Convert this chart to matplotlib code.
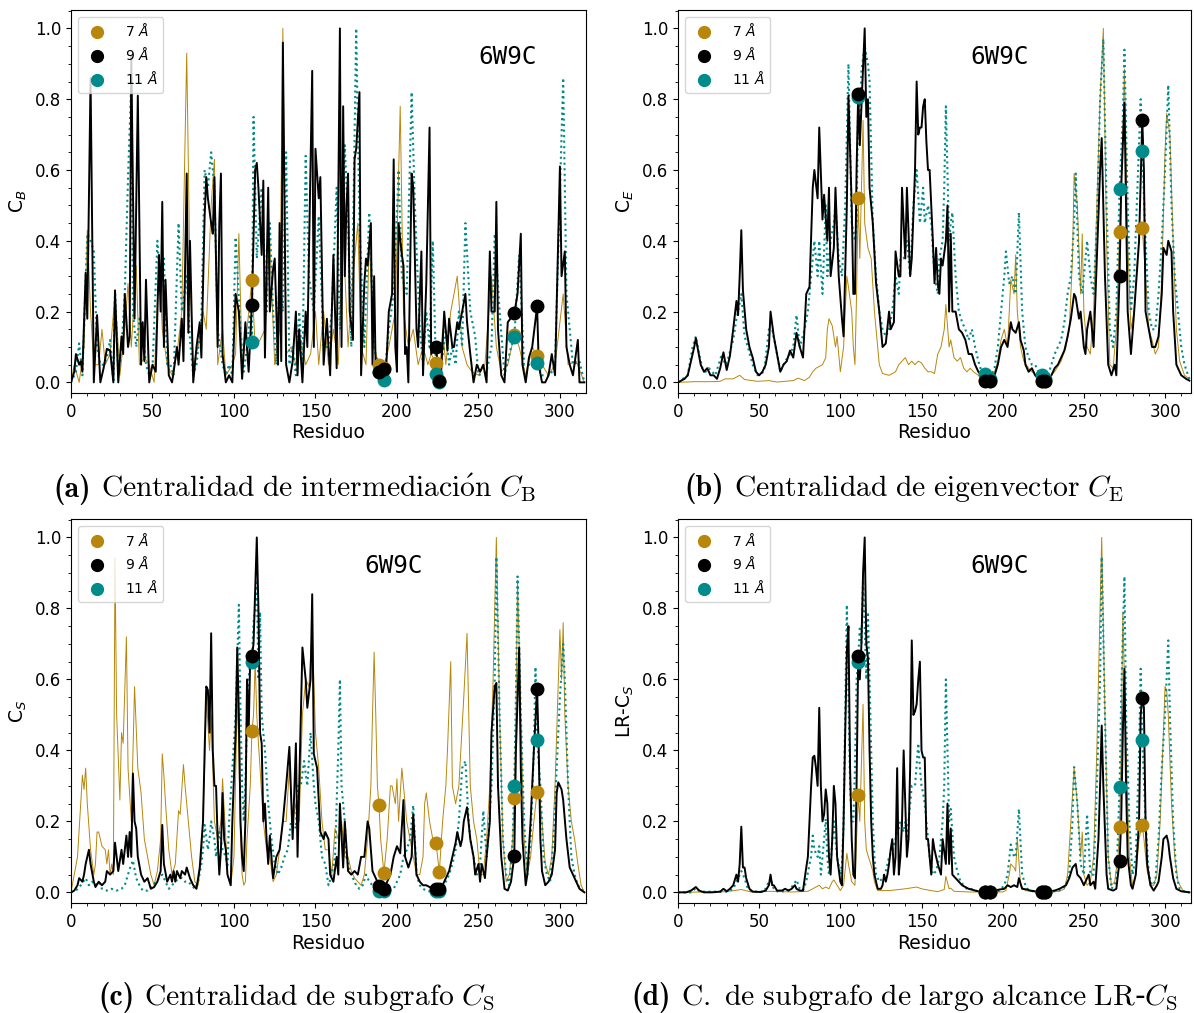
import matplotlib
matplotlib.use("Agg")
import matplotlib.pyplot as plt
from matplotlib.lines import Line2D
from matplotlib.ticker import MultipleLocator
from matplotlib.offsetbox import TextArea, HPacker, AnchoredOffsetbox

# ---------------- data ----------------
sitios = [111, 189, 192, 224, 226, 272, 286]   # highlighted residues

# (a) betweenness C_B
cb_7 = [(0,0.0),(2,0.05),(5,0.0),(8,0.1),(10,0.43),(12,0.2),(14,0.05),(17,0.05),(19,0.15),(21,0.05),(24,0.08),(27,0.25),(30,0.02),(33,0.15),(35,0.28),(37,0.1),(40,0.33),(42,0.05),(45,0.07),(48,0.05),(51,0.0),(54,0.35),(56,0.15),(59,0.05),(62,0.02),(65,0.08),(68,0.2),(71,0.93),(73,0.3),(75,0.05),(78,0.1),(81,0.2),(83,0.15),(86,0.5),(88,0.63),(90,0.05),(93,0.15),(95,0.02),(99,0.05),(101,0.08),(103,0.42),(105,0.05),(108,0.15),(113,0.1),(116,0.12),(119,0.15),(122,0.4),(125,0.05),(128,0.15),(130,1.0),(132,0.08),(135,0.1),(138,0.05),(141,0.12),(144,0.05),(147,0.08),(150,0.2),(152,0.05),(155,0.2),(158,0.05),(161,0.15),(164,0.05),(167,0.42),(170,0.1),(173,0.3),(176,0.45),(178,0.1),(181,0.05),(183,0.4),(186,0.1),(195,0.1),(199,0.2),(202,0.78),(204,0.2),(207,0.1),(210,0.15),(213,0.05),(216,0.1),(219,0.05),(221,0.08),(228,0.15),(230,0.05),(233,0.2),(237,0.3),(240,0.1),(243,0.05),(246,0.03),(250,0.02),(254,0.05),(258,0.3),(261,0.1),(264,0.03),(268,0.05),(275,0.1),(279,0.02),(283,0.1),(289,0.05),(293,0.02),(297,0.05),(302,0.25),(305,0.05),(310,0.06),(315,0.0)]
cb_9 = [(0,0.0),(2,0.03),(3,0.08),(5,0.05),(6,0.06),(7,0.03),(9,0.31),(10,0.18),(12,0.86),(14,0.0),(16,0.19),(18,0.0),(20,0.04),(22,0.095),(24,0.09),(26,0.0),(27,0.26),(29,0.0),(31,0.13),(32,0.08),(33,0.25),(35,0.1),(36,0.13),(37,0.92),(39,0.18),(41,0.81),(43,0.05),(44,0.17),(45,0.06),(46,0.29),(48,0.0),(50,0.05),(52,0.03),(54,0.36),(55,0.2),(56,0.51),(57,0.1),(58,0.29),(60,0.02),(62,0.0),(63,0.03),(65,0.1),(66,0.05),(68,0.18),(69,0.06),(71,0.59),(72,0.14),(73,0.40),(75,0.0),(77,0.1),(79,0.17),(80,0.07),(82,0.47),(83,0.58),(84,0.52),(86,0.45),(87,0.42),(88,0.58),(90,0.1),(91,0.45),(92,0.59),(93,0.08),(95,0.0),(97,0.02),(99,0.0),(101,0.25),(103,0.2),(105,0.01),(107,0.17),(109,0.03),(113,0.6),(114,0.62),(115,0.55),(117,0.36),(118,0.57),(119,0.07),(121,0.55),(122,0.2),(124,0.32),(125,0.35),(127,0.05),(128,0.45),(129,0.06),(130,0.96),(132,0.05),(134,0.0),(136,0.06),(138,0.2),(139,0.02),(140,0.15),(142,0.0),(144,0.2),(145,0.1),(148,0.88),(149,0.1),(150,0.66),(152,0.52),(153,0.58),(155,0.05),(157,0.18),(159,0.02),(161,0.36),(163,0.04),(165,1.0),(166,0.1),(167,0.78),(168,0.3),(169,0.5),(170,0.59),(171,0.2),(173,0.12),(174,0.63),(175,0.66),(177,0.82),(178,0.02),(180,0.28),(181,0.35),(182,0.33),(184,0.45),(185,0.05),(186,0.3),(187,0.02),(193,0.0),(195,0.2),(197,0.25),(198,0.63),(199,0.1),(200,0.03),(201,0.45),(203,0.36),(204,0.33),(205,0.08),(206,0.1),(207,0.0),(209,0.59),(210,0.55),(212,0.15),(213,0.1),(215,0.37),(216,0.02),(218,0.28),(220,0.72),(221,0.08),(227,0.02),(229,0.2),(231,0.09),(232,0.18),(234,0.1),(235,0.1),(237,0.17),(238,0.15),(240,0.2),(242,0.25),(243,0.17),(245,0.08),(247,0.0),(249,0.05),(251,0.03),(253,0.05),(255,0.0),(257,0.37),(258,0.2),(260,0.2),(261,0.51),(262,0.15),(264,0.02),(266,0.0),(268,0.17),(274,0.25),(276,0.42),(277,0.05),(279,0.0),(281,0.07),(283,0.1),(287,0.05),(289,0.0),(291,0.0),(293,0.02),(295,0.08),(297,0.02),(300,0.61),(301,0.3),(303,0.37),(304,0.1),(306,0.05),(308,0.02),(311,0.12),(312,0.0),(315,0.0)]
cb_11 = [(0,0.0),(3,0.03),(5,0.11),(7,0.02),(10,0.42),(12,0.4),(14,0.37),(16,0.1),(18,0.05),(20,0.05),(22,0.07),(24,0.12),(26,0.0),(27,0.26),(29,0.03),(31,0.1),(33,0.25),(35,0.58),(37,0.85),(38,0.2),(40,0.1),(42,0.18),(44,0.15),(46,0.05),(48,0.02),(50,0.04),(53,0.4),(55,0.25),(57,0.35),(59,0.05),(61,0.05),(63,0.02),(66,0.45),(68,0.2),(71,0.3),(73,0.12),(75,0.02),(77,0.05),(80,0.18),(82,0.6),(84,0.55),(86,0.65),(88,0.55),(90,0.15),(93,0.05),(95,0.02),(97,0.05),(99,0.02),(101,0.41),(104,0.15),(106,0.03),(108,0.1),(110,0.2),(112,0.75),(114,0.35),(117,0.55),(120,0.2),(122,0.45),(124,0.2),(126,0.05),(128,0.3),(130,0.2),(132,0.65),(134,0.05),(136,0.1),(138,0.02),(140,0.2),(142,0.05),(144,0.64),(146,0.3),(149,0.2),(152,0.47),(155,0.1),(158,0.1),(160,0.2),(163,0.55),(165,0.15),(168,0.67),(170,0.45),(172,0.1),(175,1.0),(177,0.45),(180,0.1),(183,0.48),(186,0.1),(195,0.15),(198,0.25),(201,0.6),(203,0.3),(206,0.25),(209,0.82),(211,0.5),(214,0.15),(216,0.05),(218,0.2),(220,0.1),(222,0.4),(230,0.15),(232,0.05),(234,0.1),(236,0.05),(238,0.2),(240,0.1),(242,0.45),(245,0.2),(248,0.13),(250,0.02),(255,0.03),(258,0.1),(260,0.42),(263,0.2),(266,0.02),(270,0.1),(275,0.36),(278,0.05),(282,0.05),(289,0.02),(294,0.02),(297,0.05),(302,0.86),(304,0.25),(308,0.05),(312,0.06),(315,0.0)]
cb_m7 = [0.29, 0.048, 0.04, 0.055, 0.005, 0.135, 0.075]
cb_m9 = [0.22, 0.03, 0.037, 0.10, 0.004, 0.195, 0.215]
cb_m11 = [0.115, 0.03, 0.006, 0.025, 0.002, 0.128, 0.055]

# (b) eigenvector C_E
ce_7 = [(0,0.0),(10,0.002),(20,0.002),(26,0.003),(29,0.01),(34,0.01),(38,0.02),(41,0.008),(49,0.003),(56,0.005),(61,0.001),(71,0.005),(74,0.012),(78,0.005),(81,0.015),(83,0.03),(85,0.04),(87,0.045),(89,0.05),(91,0.07),(92,0.15),(93,0.18),(95,0.16),(97,0.1),(98,0.13),(100,0.03),(102,0.1),(104,0.3),(105,0.27),(107,0.2),(108,0.1),(109,0.05),(110,0.25),(112,0.35),(114,0.74),(115,0.45),(117,0.38),(119,0.35),(121,0.2),(123,0.1),(124,0.05),(126,0.025),(130,0.02),(134,0.03),(136,0.05),(138,0.06),(140,0.07),(142,0.05),(144,0.06),(146,0.05),(148,0.06),(150,0.055),(152,0.04),(154,0.03),(156,0.03),(158,0.025),(160,0.08),(162,0.1),(164,0.15),(165,0.22),(167,0.1),(168,0.12),(170,0.07),(172,0.06),(174,0.07),(176,0.04),(178,0.03),(180,0.04),(182,0.03),(185,0.02),(187,0.01),(195,0.03),(197,0.06),(199,0.12),(201,0.15),(203,0.1),(205,0.29),(206,0.27),(207,0.25),(208,0.36),(209,0.2),(211,0.1),(213,0.06),(216,0.04),(218,0.03),(221,0.02),(228,0.01),(232,0.03),(236,0.06),(239,0.1),(241,0.15),(243,0.35),(244,0.59),(246,0.5),(248,0.25),(249,0.42),(250,0.2),(252,0.1),(254,0.08),(256,0.2),(258,0.5),(260,0.8),(262,1.0),(264,0.4),(266,0.05),(268,0.04),(270,0.15),(274,0.7),(275,0.885),(277,0.4),(279,0.15),(281,0.2),(283,0.35),(285,0.45),(288,0.3),(290,0.15),(292,0.12),(294,0.08),(296,0.1),(298,0.3),(300,0.65),(301,0.76),(303,0.7),(305,0.4),(307,0.15),(309,0.06),(312,0.02),(315,0.01)]
ce_9 = [(0,0.0),(4,0.01),(6,0.02),(8,0.06),(10,0.1),(11,0.125),(12,0.1),(14,0.05),(16,0.03),(18,0.04),(20,0.02),(22,0.02),(24,0.01),(26,0.04),(28,0.085),(30,0.035),(32,0.075),(34,0.15),(36,0.23),(37,0.19),(38,0.3),(39,0.43),(40,0.26),(42,0.15),(44,0.1),(46,0.07),(48,0.03),(50,0.02),(52,0.03),(54,0.05),(56,0.1),(57,0.2),(59,0.13),(61,0.08),(63,0.03),(65,0.05),(67,0.06),(69,0.09),(71,0.07),(73,0.14),(75,0.1),(77,0.07),(79,0.25),(81,0.27),(83,0.55),(84,0.6),(86,0.52),(87,0.72),(89,0.46),(90,0.53),(92,0.4),(93,0.55),(94,0.3),(96,0.38),(97,0.55),(99,0.3),(101,0.18),(102,0.13),(104,0.5),(105,0.81),(107,0.5),(108,0.25),(109,0.25),(110,0.6),(112,0.67),(113,0.78),(115,1.0),(116,0.75),(117,0.8),(118,0.55),(120,0.45),(122,0.28),(124,0.2),(126,0.1),(128,0.11),(130,0.2),(131,0.15),(133,0.17),(134,0.37),(136,0.3),(137,0.3),(138,0.55),(140,0.35),(141,0.55),(143,0.3),(144,0.35),(146,0.6),(147,0.85),(148,0.7),(149,0.72),(150,0.72),(151,0.78),(152,0.8),(153,0.68),(154,0.6),(155,0.6),(156,0.5),(157,0.4),(158,0.28),(159,0.38),(160,0.28),(161,0.25),(162,0.35),(163,0.33),(165,0.4),(166,0.5),(167,0.2),(168,0.42),(169,0.2),(171,0.2),(173,0.15),(175,0.14),(177,0.12),(179,0.08),(181,0.08),(183,0.05),(185,0.03),(187,0.02),(195,0.02),(197,0.05),(199,0.1),(201,0.12),(203,0.1),(205,0.17),(206,0.15),(208,0.14),(210,0.17),(211,0.12),(213,0.09),(214,0.05),(216,0.03),(218,0.04),(220,0.02),(222,0.01),(228,0.01),(230,0.02),(232,0.04),(234,0.05),(236,0.07),(238,0.09),(240,0.13),(242,0.18),(244,0.25),(245,0.24),(247,0.18),(248,0.2),(250,0.1),(251,0.08),(252,0.15),(254,0.2),(255,0.15),(256,0.1),(258,0.35),(260,0.6),(261,0.69),(263,0.3),(265,0.05),(267,0.02),(269,0.05),(270,0.02),(273,0.55),(275,0.79),(276,0.5),(277,0.2),(279,0.08),(281,0.2),(284,0.4),(287,0.6),(288,0.2),(290,0.15),(292,0.1),(294,0.1),(296,0.13),(298,0.25),(299,0.38),(301,0.36),(302,0.4),(304,0.37),(305,0.2),(307,0.05),(310,0.02),(313,0.01),(315,0.005)]
ce_11 = [(0,0.0),(6,0.02),(9,0.1),(11,0.13),(13,0.08),(15,0.04),(17,0.03),(19,0.04),(21,0.03),(23,0.02),(25,0.05),(27,0.08),(29,0.05),(31,0.07),(34,0.12),(36,0.18),(37,0.2),(39,0.25),(41,0.13),(43,0.1),(46,0.05),(49,0.02),(53,0.03),(56,0.15),(58,0.15),(61,0.08),(63,0.03),(66,0.06),(69,0.08),(71,0.1),(73,0.19),(75,0.1),(78,0.15),(80,0.2),(82,0.3),(84,0.4),(86,0.3),(87,0.4),(89,0.25),(91,0.5),(92,0.3),(94,0.4),(96,0.45),(97,0.5),(99,0.35),(101,0.3),(103,0.5),(105,0.9),(107,0.45),(109,0.4),(110,0.45),(112,0.72),(113,0.88),(115,0.95),(117,0.9),(118,0.85),(120,0.45),(122,0.3),(124,0.2),(126,0.15),(128,0.13),(130,0.15),(132,0.2),(134,0.3),(136,0.25),(137,0.35),(139,0.35),(141,0.4),(143,0.3),(145,0.5),(147,0.6),(149,0.45),(151,0.55),(152,0.45),(154,0.5),(156,0.45),(158,0.3),(160,0.25),(161,0.35),(163,0.4),(164,0.55),(165,0.78),(167,0.4),(168,0.45),(169,0.48),(171,0.3),(173,0.2),(175,0.17),(177,0.15),(179,0.12),(181,0.15),(183,0.1),(185,0.06),(187,0.03),(195,0.04),(197,0.1),(199,0.2),(201,0.3),(202,0.37),(204,0.28),(206,0.3),(208,0.25),(210,0.48),(212,0.2),(214,0.1),(216,0.07),(218,0.05),(220,0.05),(222,0.03),(228,0.02),(230,0.05),(232,0.08),(234,0.1),(236,0.12),(238,0.17),(240,0.25),(242,0.3),(244,0.45),(245,0.59),(247,0.3),(249,0.25),(250,0.3),(252,0.4),(254,0.3),(256,0.25),(258,0.45),(260,0.8),(262,0.97),(264,0.5),(266,0.15),(268,0.1),(270,0.2),(274,0.75),(275,0.94),(277,0.5),(279,0.2),(281,0.3),(283,0.55),(285,0.8),(288,0.4),(290,0.2),(292,0.15),(294,0.15),(296,0.25),(298,0.4),(300,0.6),(302,0.84),(304,0.5),(306,0.3),(308,0.2),(310,0.1),(312,0.05),(315,0.01)]
ce_m7 = [0.52, 0.008, 0.005, 0.005, 0.005, 0.425, 0.435]
ce_m9 = [0.815, 0.005, 0.003, 0.005, 0.004, 0.30, 0.74]
ce_m11 = [0.805, 0.025, 0.01, 0.02, 0.01, 0.545, 0.655]

# (c) subgraph C_S
cs_7 = [(0,0.0),(2,0.05),(4,0.1),(6,0.25),(7,0.33),(8,0.29),(9,0.35),(10,0.25),(12,0.12),(14,0.05),(15,0.08),(16,0.17),(17,0.17),(19,0.13),(21,0.12),(22,0.08),(23,0.12),(24,0.05),(25,0.08),(26,0.05),(27,0.943),(28,0.5),(30,0.26),(31,0.45),(32,0.42),(34,0.72),(35,0.35),(37,0.2),(39,0.58),(41,0.35),(43,0.28),(45,0.15),(47,0.1),(49,0.05),(51,0.02),(53,0.06),(55,0.15),(56,0.39),(57,0.33),(58,0.25),(60,0.12),(62,0.05),(64,0.08),(66,0.23),(67,0.22),(69,0.36),(70,0.3),(72,0.2),(74,0.1),(76,0.03),(78,0.02),(80,0.1),(82,0.35),(83,0.55),(85,0.4),(86,0.5),(87,0.35),(88,0.2),(90,0.15),(92,0.2),(93,0.32),(95,0.15),(96,0.05),(98,0.02),(100,0.1),(102,0.55),(103,0.4),(104,0.15),(105,0.05),(106,0.02),(107,0.03),(108,0.15),(110,0.3),(112,0.5),(113,0.65),(114,0.5),(115,0.42),(116,0.35),(118,0.2),(120,0.12),(122,0.1),(124,0.03),(126,0.05),(128,0.12),(130,0.2),(132,0.2),(134,0.35),(136,0.2),(138,0.25),(140,0.2),(142,0.5),(144,0.6),(146,0.58),(148,0.75),(150,0.45),(152,0.35),(154,0.2),(156,0.12),(158,0.12),(160,0.05),(162,0.18),(164,0.15),(166,0.2),(168,0.1),(170,0.1),(172,0.06),(174,0.04),(176,0.03),(178,0.02),(180,0.05),(182,0.15),(184,0.3),(185,0.5),(186,0.677),(187,0.5),(188,0.3),(190,0.15),(194,0.15),(196,0.3),(197,0.3),(199,0.25),(200,0.32),(201,0.2),(203,0.35),(204,0.3),(206,0.2),(208,0.15),(210,0.1),(212,0.05),(214,0.05),(216,0.1),(217,0.25),(218,0.28),(220,0.2),(222,0.15),(228,0.2),(230,0.3),(231,0.4),(233,0.65),(234,0.3),(236,0.25),(238,0.3),(241,0.55),(243,0.73),(245,0.3),(246,0.25),(247,0.2),(249,0.15),(251,0.05),(253,0.05),(255,0.15),(257,0.3),(259,0.6),(261,1.0),(263,0.5),(265,0.15),(267,0.03),(269,0.05),(271,0.15),(273,0.5),(274,0.88),(276,0.5),(278,0.15),(280,0.05),(282,0.1),(284,0.2),(287,0.3),(289,0.2),(291,0.08),(293,0.05),(295,0.1),(297,0.3),(299,0.6),(300,0.74),(301,0.6),(302,0.76),(303,0.5),(305,0.3),(307,0.2),(309,0.15),(311,0.08),(313,0.02),(315,0.0)]
cs_9 = [(0,0.0),(2,0.005),(4,0.02),(5,0.04),(7,0.03),(8,0.05),(9,0.08),(10,0.1),(11,0.12),(12,0.08),(14,0.03),(15,0.015),(17,0.03),(19,0.02),(21,0.03),(22,0.06),(24,0.05),(26,0.06),(27,0.14),(29,0.06),(31,0.12),(32,0.08),(34,0.16),(35,0.1),(36,0.17),(37,0.1),(38,0.335),(39,0.2),(40,0.18),(41,0.1),(43,0.05),(45,0.03),(47,0.04),(49,0.01),(51,0.015),(53,0.03),(55,0.06),(56,0.19),(57,0.08),(59,0.03),(61,0.05),(62,0.03),(63,0.06),(64,0.03),(65,0.06),(67,0.04),(68,0.06),(70,0.05),(71,0.07),(73,0.04),(75,0.02),(77,0.01),(79,0.07),(81,0.2),(82,0.4),(83,0.58),(84,0.57),(85,0.45),(86,0.73),(87,0.4),(88,0.3),(89,0.3),(90,0.15),(91,0.05),(92,0.12),(93,0.28),(94,0.15),(95,0.12),(96,0.05),(98,0.02),(99,0.2),(101,0.45),(102,0.69),(103,0.5),(104,0.2),(105,0.1),(106,0.06),(107,0.2),(108,0.6),(109,0.45),(110,0.67),(112,0.7),(113,0.85),(114,1.0),(115,0.8),(116,0.45),(117,0.42),(118,0.2),(119,0.25),(120,0.15),(121,0.08),(122,0.16),(124,0.04),(126,0.1),(128,0.12),(130,0.2),(132,0.3),(134,0.41),(136,0.15),(138,0.42),(139,0.1),(142,0.69),(144,0.6),(145,0.52),(147,0.6),(148,0.84),(149,0.39),(151,0.35),(153,0.17),(155,0.15),(156,0.17),(158,0.15),(159,0.05),(161,0.03),(163,0.1),(164,0.05),(165,0.25),(167,0.07),(168,0.2),(170,0.06),(172,0.05),(174,0.06),(176,0.05),(178,0.1),(180,0.1),(182,0.2),(183,0.18),(185,0.06),(187,0.04),(194,0.03),(196,0.05),(198,0.1),(200,0.13),(202,0.11),(204,0.26),(205,0.1),(207,0.07),(209,0.1),(210,0.22),(212,0.05),(214,0.03),(216,0.02),(218,0.02),(220,0.015),(228,0.02),(230,0.04),(232,0.06),(234,0.1),(236,0.14),(237,0.17),(239,0.13),(240,0.15),(241,0.2),(243,0.24),(245,0.15),(247,0.1),(248,0.05),(250,0.08),(251,0.03),(252,0.08),(254,0.04),(255,0.1),(257,0.2),(258,0.45),(260,0.58),(261,0.59),(262,0.3),(264,0.1),(266,0.01),(268,0.005),(270,0.03),(273,0.4),(275,0.69),(276,0.35),(277,0.15),(279,0.02),(280,0.05),(282,0.2),(284,0.4),(287,0.4),(288,0.15),(289,0.06),(291,0.02),(293,0.03),(295,0.05),(297,0.12),(298,0.28),(299,0.31),(301,0.29),(302,0.26),(304,0.15),(306,0.07),(308,0.05),(310,0.03),(312,0.01),(315,0.0)]
cs_11 = [(0,0.0),(3,0.005),(6,0.02),(9,0.04),(11,0.02),(13,0.03),(15,0.02),(17,0.03),(19,0.01),(22,0.005),(25,0.01),(28,0.005),(31,0.01),(33,0.02),(35,0.05),(36,0.066),(38,0.09),(40,0.04),(42,0.02),(44,0.005),(47,0.005),(50,0.02),(52,0.03),(54,0.04),(56,0.05),(58,0.03),(60,0.01),(62,0.02),(64,0.03),(66,0.04),(68,0.04),(70,0.03),(72,0.03),(74,0.02),(76,0.01),(78,0.03),(80,0.08),(81,0.12),(82,0.19),(84,0.12),(85,0.15),(86,0.2),(88,0.15),(89,0.1),(91,0.17),(93,0.12),(95,0.1),(96,0.07),(97,0.2),(99,0.35),(101,0.5),(103,0.81),(104,0.5),(105,0.3),(106,0.2),(107,0.3),(108,0.5),(109,0.6),(110,0.65),(112,0.76),(113,0.8),(114,0.88),(115,0.6),(116,0.79),(117,0.5),(119,0.4),(121,0.25),(123,0.15),(125,0.08),(127,0.05),(129,0.07),(131,0.1),(133,0.12),(135,0.2),(136,0.2),(138,0.18),(139,0.3),(141,0.3),(143,0.37),(145,0.3),(147,0.45),(149,0.3),(150,0.25),(152,0.2),(154,0.1),(156,0.08),(158,0.02),(160,0.05),(162,0.1),(164,0.4),(165,0.6),(166,0.3),(168,0.2),(169,0.1),(171,0.06),(173,0.04),(175,0.02),(177,0.01),(179,0.02),(181,0.05),(183,0.03),(185,0.02),(187,0.01),(195,0.005),(198,0.01),(200,0.03),(202,0.05),(204,0.1),(206,0.12),(208,0.15),(210,0.245),(212,0.05),(214,0.02),(216,0.01),(218,0.005),(220,0.003),(228,0.01),(230,0.03),(232,0.05),(234,0.08),(236,0.12),(238,0.2),(240,0.35),(242,0.37),(244,0.2),(245,0.15),(247,0.1),(249,0.05),(251,0.08),(253,0.23),(255,0.1),(256,0.15),(258,0.3),(260,0.6),(261,0.945),(263,0.5),(265,0.15),(267,0.05),(269,0.02),(271,0.15),(273,0.55),(274,0.89),(276,0.5),(278,0.2),(280,0.05),(282,0.15),(284,0.4),(285,0.635),(288,0.3),(290,0.1),(292,0.05),(294,0.03),(296,0.15),(298,0.35),(300,0.55),(302,0.7),(303,0.6),(305,0.3),(307,0.1),(309,0.05),(311,0.02),(313,0.01),(315,0.0)]
cs_m7 = [0.454, 0.245, 0.055, 0.139, 0.056, 0.265, 0.284]
cs_m9 = [0.667, 0.019, 0.01, 0.01, 0.01, 0.103, 0.573]
cs_m11 = [0.649, 0.003, 0.003, 0.003, 0.003, 0.30, 0.43]

# (d) long-range subgraph LR-C_S
lr_7 = [(0,0.0),(30,0.002),(39,0.008),(45,0.001),(57,0.003),(70,0.001),(80,0.003),(83,0.01),(85,0.015),(87,0.02),(89,0.01),(91,0.015),(93,0.01),(95,0.03),(96,0.035),(98,0.02),(100,0.005),(102,0.02),(104,0.11),(105,0.08),(107,0.03),(109,0.02),(110,0.15),(112,0.2),(114,0.53),(115,0.2),(116,0.12),(118,0.09),(120,0.06),(121,0.03),(123,0.005),(130,0.005),(140,0.01),(147,0.015),(150,0.01),(156,0.005),(160,0.002),(164,0.008),(165,0.045),(167,0.01),(168,0.012),(170,0.003),(180,0.001),(200,0.001),(202,0.005),(204,0.05),(205,0.08),(207,0.07),(208,0.06),(209,0.155),(211,0.02),(214,0.005),(220,0.001),(230,0.001),(235,0.003),(238,0.01),(240,0.05),(242,0.2),(244,0.35),(246,0.25),(248,0.1),(249,0.17),(250,0.05),(252,0.02),(254,0.03),(256,0.1),(258,0.4),(260,0.8),(261,1.0),(263,0.5),(265,0.1),(267,0.02),(269,0.03),(271,0.1),(273,0.4),(274,0.79),(276,0.4),(278,0.1),(280,0.02),(282,0.05),(284,0.15),(287,0.15),(289,0.06),(291,0.02),(293,0.02),(295,0.05),(297,0.2),(299,0.45),(300,0.58),(301,0.57),(302,0.5),(304,0.25),(306,0.1),(308,0.03),(311,0.005),(315,0.0)]
lr_9 = [(0,0.0),(5,0.0),(8,0.005),(11,0.015),(13,0.005),(16,0.0),(21,0.0),(26,0.002),(28,0.01),(30,0.003),(32,0.01),(34,0.02),(36,0.05),(37,0.03),(38,0.08),(39,0.185),(40,0.07),(41,0.07),(42,0.04),(44,0.01),(46,0.002),(51,0.001),(54,0.005),(56,0.02),(57,0.05),(58,0.02),(59,0.02),(61,0.005),(64,0.005),(66,0.01),(68,0.005),(70,0.01),(72,0.02),(73,0.01),(75,0.005),(77,0.005),(79,0.07),(80,0.1),(81,0.2),(82,0.3),(83,0.38),(84,0.385),(85,0.35),(86,0.3),(87,0.52),(88,0.3),(89,0.2),(90,0.22),(91,0.29),(92,0.25),(93,0.1),(94,0.05),(95,0.15),(96,0.3),(97,0.25),(98,0.1),(100,0.03),(101,0.02),(102,0.2),(103,0.45),(104,0.68),(105,0.75),(106,0.35),(107,0.15),(108,0.05),(109,0.04),(110,0.3),(112,0.6),(113,0.7),(114,0.9),(115,1.0),(116,0.7),(117,0.66),(118,0.4),(119,0.2),(120,0.1),(121,0.05),(122,0.03),(123,0.01),(125,0.01),(126,0.02),(127,0.05),(128,0.03),(129,0.05),(130,0.08),(131,0.12),(132,0.15),(133,0.05),(134,0.1),(135,0.35),(136,0.05),(137,0.1),(138,0.2),(139,0.4),(140,0.25),(141,0.1),(142,0.15),(143,0.35),(144,0.71),(145,0.5),(146,0.51),(147,0.53),(148,0.6),(149,0.65),(150,0.4),(151,0.38),(152,0.38),(153,0.15),(154,0.15),(155,0.1),(156,0.05),(157,0.15),(158,0.12),(160,0.08),(162,0.05),(163,0.15),(165,0.08),(166,0.25),(167,0.08),(168,0.18),(169,0.05),(171,0.04),(173,0.03),(175,0.02),(177,0.015),(179,0.01),(181,0.008),(183,0.005),(186,0.002),(195,0.005),(198,0.008),(201,0.01),(203,0.02),(205,0.015),(207,0.02),(209,0.015),(210,0.04),(212,0.01),(215,0.008),(217,0.005),(220,0.003),(229,0.003),(232,0.005),(235,0.01),(237,0.015),(239,0.02),(241,0.04),(243,0.07),(245,0.08),(246,0.05),(248,0.04),(250,0.02),(251,0.03),(253,0.05),(254,0.02),(256,0.03),(257,0.01),(259,0.15),(260,0.3),(261,0.47),(262,0.3),(264,0.05),(265,0.01),(268,0.005),(270,0.01),(273,0.2),(274,0.45),(275,0.63),(276,0.3),(277,0.1),(279,0.02),(280,0.01),(282,0.05),(284,0.2),(285,0.5),(287,0.52),(288,0.2),(289,0.08),(291,0.02),(293,0.005),(295,0.02),(296,0.03),(298,0.1),(299,0.15),(301,0.16),(302,0.14),(303,0.1),(305,0.04),(307,0.01),(310,0.003),(315,0.0)]
lr_11 = [(0,0.0),(8,0.0),(11,0.012),(13,0.005),(16,0.002),(31,0.002),(34,0.01),(36,0.03),(38,0.05),(39,0.06),(41,0.04),(43,0.01),(46,0.002),(53,0.002),(57,0.04),(59,0.01),(61,0.003),(67,0.003),(69,0.01),(71,0.02),(73,0.035),(75,0.01),(77,0.005),(79,0.03),(81,0.08),(82,0.1),(83,0.16),(84,0.12),(86,0.1),(87,0.13),(88,0.05),(89,0.1),(90,0.15),(91,0.207),(92,0.1),(93,0.05),(94,0.08),(96,0.2),(97,0.15),(98,0.1),(100,0.05),(101,0.08),(102,0.2),(103,0.5),(104,0.81),(105,0.55),(106,0.3),(107,0.2),(108,0.2),(109,0.35),(110,0.6),(112,0.75),(113,0.7),(114,0.88),(115,0.75),(116,0.6),(117,0.79),(118,0.6),(119,0.4),(120,0.2),(121,0.1),(122,0.05),(124,0.03),(126,0.04),(128,0.06),(130,0.1),(132,0.12),(134,0.15),(136,0.18),(137,0.2),(139,0.17),(140,0.2),(141,0.15),(143,0.25),(144,0.3),(146,0.3),(148,0.42),(149,0.35),(150,0.3),(151,0.28),(152,0.25),(153,0.2),(154,0.15),(155,0.1),(157,0.05),(159,0.06),(161,0.1),(163,0.2),(164,0.3),(165,0.6),(167,0.2),(168,0.235),(170,0.1),(172,0.06),(174,0.03),(176,0.02),(178,0.01),(180,0.01),(183,0.005),(186,0.002),(195,0.002),(198,0.005),(201,0.02),(203,0.05),(205,0.135),(207,0.1),(208,0.1),(210,0.235),(212,0.05),(214,0.02),(216,0.005),(220,0.002),(230,0.002),(234,0.005),(237,0.01),(239,0.02),(241,0.05),(243,0.2),(244,0.353),(246,0.25),(248,0.08),(250,0.05),(252,0.22),(254,0.05),(256,0.05),(258,0.3),(260,0.6),(261,0.945),(263,0.5),(265,0.1),(267,0.01),(270,0.03),(273,0.55),(275,0.89),(276,0.5),(278,0.2),(280,0.05),(282,0.1),(284,0.4),(285,0.63),(288,0.2),(290,0.05),(292,0.02),(294,0.03),(296,0.15),(298,0.35),(300,0.5),(302,0.71),(303,0.5),(305,0.2),(307,0.05),(309,0.01),(312,0.002),(315,0.0)]
lr_m7 = [0.273, 0.001, 0.001, 0.001, 0.001, 0.183, 0.19]
lr_m9 = [0.665, 0.001, 0.001, 0.001, 0.001, 0.089, 0.548]
lr_m11 = [0.65, 0.001, 0.001, 0.001, 0.001, 0.296, 0.43]

etiquetas = ["7 $\\AA$", "9 $\\AA$", "11 $\\AA$"]
ylabels = ["C$_B$", "C$_E$", "C$_S$", "LR-C$_S$"]
cap_tags = ["(a)", "(b)", "(c)", "(d)"]
cap_texts = [
    r"$\mathrm{Centralidad\ de\ intermediaci\acute{o}n}\ C_\mathrm{B}$",
    r"$\mathrm{Centralidad\ de\ eigenvector}\ C_\mathrm{E}$",
    r"$\mathrm{Centralidad\ de\ subgrafo}\ C_\mathrm{S}$",
    r"$\mathrm{C.\ de\ subgrafo\ de\ largo\ alcance\ LR}$-$C_\mathrm{S}$",
]

GOLD = "#B8860B"
TEAL = "#008B8B"
BLACK = "#000000"


def serie(pares, marcas):
    d = dict(pares)
    for r, v in zip(sitios, marcas):
        d[r] = v
    xs = sorted(d)
    return xs, [d[x] for x in xs]


fig = plt.figure(figsize=(11.94, 10.13), dpi=100)
W, H = 1194.0, 1013.0
boxes = [(71, 10, 586, 393), (678, 10, 1191, 393),
         (71, 519, 586, 903), (678, 519, 1191, 903)]
paneles = [
    (cb_7, cb_9, cb_11, cb_m7, cb_m9, cb_m11, 268),
    (ce_7, ce_9, ce_11, ce_m7, ce_m9, ce_m11, 198),
    (cs_7, cs_9, cs_11, cs_m7, cs_m9, cs_m11, 198),
    (lr_7, lr_9, lr_11, lr_m7, lr_m9, lr_m11, 198),
]
cap_pos = [(295, 488), (904, 488), (297, 997), (905, 997)]
CAPSIZE = 21.3

for i, (box, pan) in enumerate(zip(boxes, paneles)):
    x0, y0, x1, y1 = box
    ax = fig.add_axes([x0 / W, 1 - y1 / H, (x1 - x0) / W, (y1 - y0) / H])
    s7, s9, s11, m7, m9, m11, tx = pan
    x, y = serie(s7, m7)
    ax.plot(x, y, color=GOLD, lw=0.7, zorder=2)
    x, y = serie(s11, m11)
    ax.plot(x, y, color=TEAL, lw=1.5, ls=":", zorder=3)
    x, y = serie(s9, m9)
    ax.plot(x, y, color=BLACK, lw=1.4, zorder=4)
    ax.plot(sitios, m7, "o", color=GOLD, ms=9, ls="none", zorder=5)
    ax.plot(sitios, m11, "o", color=TEAL, ms=9, ls="none", zorder=6)
    ax.plot(sitios, m9, "o", color=BLACK, ms=9, ls="none", zorder=7)

    ax.set_xlim(0, 316)
    ax.set_ylim(-0.03, 1.052)
    ax.set_xticks(range(0, 301, 50))
    ax.xaxis.set_minor_locator(MultipleLocator(10))
    ax.set_yticks([0.0, 0.2, 0.4, 0.6, 0.8, 1.0])
    ax.yaxis.set_minor_locator(MultipleLocator(0.05))
    ax.tick_params(labelsize=12)
    ax.set_xlabel("Residuo", fontsize=13.5, labelpad=2)
    ax.set_ylabel(ylabels[i], fontsize=13.5)
    ax.text(tx, 0.92, "6W9C", family="DejaVu Sans Mono", fontsize=17.5,
            ha="center", va="center")
    handles = [Line2D([], [], marker="o", ls="none", color=c, ms=8.5)
               for c in (GOLD, BLACK, TEAL)]
    ax.legend(handles, etiquetas, loc="upper left", fontsize=10,
              borderaxespad=0.5, handletextpad=1.0)

    # caption: bold tag + Computer-Modern text
    tag = TextArea(cap_tags[i], textprops=dict(family="cmb10", size=CAPSIZE))
    body = TextArea(cap_texts[i], textprops=dict(size=CAPSIZE,
                                                 math_fontfamily="cm"))
    pack = HPacker(children=[tag, body], align="baseline", pad=0,
                   sep=CAPSIZE * 0.33)
    cx, cy = cap_pos[i]
    anc = AnchoredOffsetbox(loc="center", child=pack, pad=0, borderpad=0,
                            frameon=False, bbox_to_anchor=(cx / W, 1 - cy / H),
                            bbox_transform=fig.transFigure)
    fig.add_artist(anc)

fig.savefig("out.png", dpi=100)
